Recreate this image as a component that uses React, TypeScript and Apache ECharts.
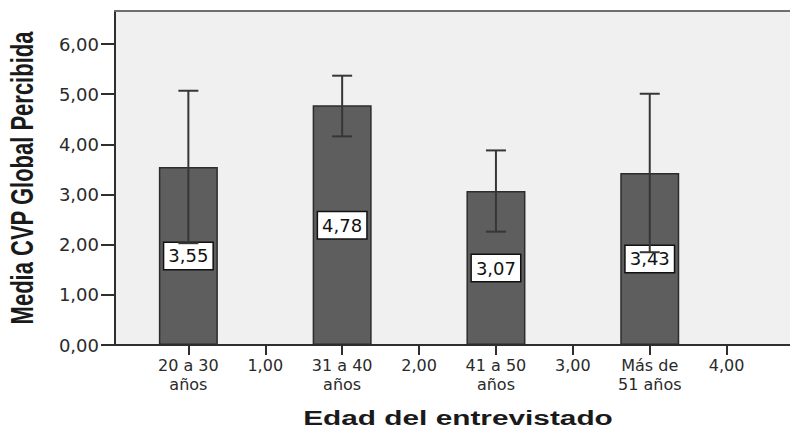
import React, { useEffect, useRef } from "react";
import * as echarts from "echarts";

// ---- Data ----
const xTickValues = [0.5, 1, 1.5, 2, 2.5, 3, 3.5, 4];
const xTickLabels = [
  "20 a 30\naños",
  "1,00",
  "31 a 40\naños",
  "2,00",
  "41 a 50\naños",
  "3,00",
  "Más de\n51 años",
  "4,00",
];
const groupPositions = [0.5, 1.5, 2.5, 3.5];
const meanValues = [3.55, 4.78, 3.07, 3.43];
const lowerCI = [2.03, 4.16, 2.26, 1.85];
const upperCI = [5.07, 5.37, 3.88, 5.01];
const yTickValues = [0, 1, 2, 3, 4, 5, 6];
const xTitle = "Edad del entrevistado";
const yTitle = "Media CVP Global Percibida";

const fmt = (v: number) => v.toFixed(2).replace(".", ",");

export default function App() {
  const ref = useRef<HTMLDivElement>(null);

  useEffect(() => {
    if (!ref.current) return;
    const chart = echarts.init(ref.current, null, { renderer: "svg" });

    const xMin = 0.023;
    const xMax = 4.412;
    const labelFont = "DejaVu Sans";

    const option: any = {
      animation: false,
      backgroundColor: "#ffffff",
      textStyle: { fontFamily: labelFont },
      grid: {
        left: 115,
        right: 0,
        top: 11,
        bottom: 85,
        show: true,
        backgroundColor: "#f0f0f0",
        borderWidth: 0,
      },
      xAxis: [
        {
          type: "value",
          min: xMin,
          max: xMax,
          position: "bottom",
          axisLine: { show: true, onZero: false, lineStyle: { color: "#2e2e2e", width: 2 } },
          axisTick: {
            show: true,
            customValues: xTickValues,
            length: 10,
            lineStyle: { color: "#2e2e2e", width: 2 },
          },
          axisLabel: {
            customValues: xTickValues,
            formatter: (v: number) => {
              let best = 0;
              for (let i = 0; i < xTickValues.length; i++) {
                if (Math.abs(xTickValues[i] - v) < Math.abs(xTickValues[best] - v)) best = i;
              }
              return xTickLabels[best];
            },
            fontFamily: labelFont,
            fontSize: 16,
            lineHeight: 19,
            color: "#2a2a2a",
            margin: 11,
          },
          splitLine: { show: false },
        },
        {
          type: "value",
          min: xMin,
          max: xMax,
          position: "top",
          axisLine: { show: true, onZero: false, lineStyle: { color: "#6e6e6e", width: 2 } },
          axisTick: { show: false },
          axisLabel: { show: false },
          splitLine: { show: false },
        },
      ],
      yAxis: {
        type: "value",
        min: 0,
        max: 6.66,
        interval: 1,
        axisLine: { show: true, onZero: false, lineStyle: { color: "#2e2e2e", width: 2 } },
        axisTick: {
          show: true,
          customValues: yTickValues,
          length: 14,
          lineStyle: { color: "#2e2e2e", width: 2 },
        },
        axisLabel: {
          customValues: yTickValues,
          formatter: (v: number) => fmt(v),
          fontFamily: labelFont,
          fontSize: 18,
          color: "#2a2a2a",
          margin: 16,
          padding: [5, 0, 0, 0],
        },
        splitLine: { show: false },
      },
      series: [
        {
          type: "bar",
          xAxisIndex: 0,
          z: 2,
          barWidth: 59,
          data: groupPositions.map((p, i) => [p, meanValues[i]]),
          itemStyle: { color: "#5e5e5e", borderColor: "#2c2c2c", borderWidth: 1.5 },
          label: {
            show: true,
            position: "inside",
            formatter: (p: any) => fmt(p.value[1]),
            fontFamily: labelFont,
            fontSize: 18,
            lineHeight: 20,
            color: "#111111",
            backgroundColor: "#ffffff",
            borderColor: "#111111",
            borderWidth: 1.5,
            padding: [3, 4, 3, 4],
          },
        },
        {
          type: "custom",
          xAxisIndex: 0,
          z: 3,
          data: groupPositions.map((p, i) => [p, lowerCI[i], upperCI[i]]),
          encode: { x: 0, y: [1, 2] },
          renderItem: (params: any, api: any) => {
            const x = api.value(0);
            const lo = api.coord([x, api.value(1)]);
            const hi = api.coord([x, api.value(2)]);
            const half = 10;
            const style = { stroke: "#363636", lineWidth: 2 };
            return {
              type: "group",
              children: [
                { type: "line", shape: { x1: hi[0], y1: hi[1], x2: lo[0], y2: lo[1] }, style },
                { type: "line", shape: { x1: hi[0] - half, y1: hi[1], x2: hi[0] + half, y2: hi[1] }, style },
                { type: "line", shape: { x1: lo[0] - half, y1: lo[1], x2: lo[0] + half, y2: lo[1] }, style },
              ],
            };
          },
        },
      ],
      graphic: [
        {
          type: "text",
          x: 458,
          y: 418,
          scaleX: 1.42,
          style: {
            text: xTitle,
            font: "bold 21px 'Liberation Sans', Arial, sans-serif",
            fill: "#1a1a1a",
            textAlign: "center",
            textVerticalAlign: "middle",
          },
        },
        {
          type: "text",
          x: 23,
          y: 178,
          rotation: Math.PI / 2,
          scaleY: 1.42,
          style: {
            text: yTitle,
            font: "bold 22px 'Liberation Sans', Arial, sans-serif",
            fill: "#1a1a1a",
            textAlign: "center",
            textVerticalAlign: "middle",
          },
        },
      ],
    };

    chart.setOption(option);
    return () => chart.dispose();
  }, []);

  return (
    <div
      ref={ref}
      style={{ position: "fixed", left: 0, top: 0, width: 790, height: 430 }}
    />
  );
}
